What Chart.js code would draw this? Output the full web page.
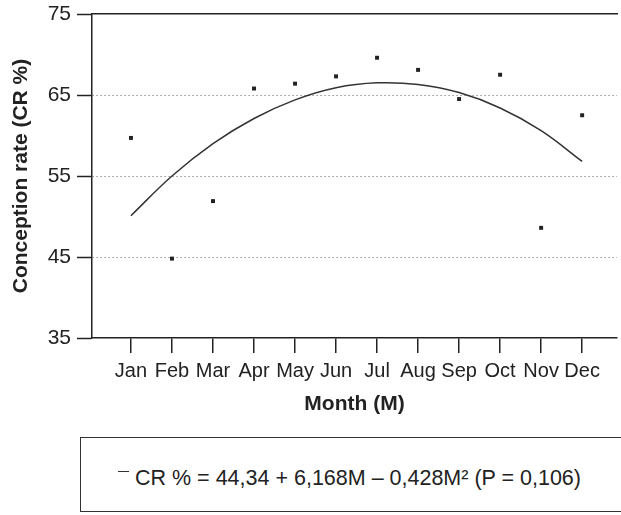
<!DOCTYPE html>
<html>
<head>
<meta charset="utf-8">
<script src="https://cdn.jsdelivr.net/npm/chart.js@4.4.1/dist/chart.umd.min.js"></script>
<style>
  body { margin: 0; background: #fff; overflow: hidden; }
  #wrap { position: relative; width: 621px; height: 430px; }
  #legendBox {
    position: absolute; left: 80px; top: 437px; width: 580px; height: 75px;
    border: 1.5px solid #333; box-sizing: border-box;
    font: 21.5px "Liberation Sans", Arial, sans-serif; color: #222;
    padding: 28px 0 0 37px; line-height: 24px; white-space: nowrap;
  }
  #legendBox .mark {
    display: inline-block; width: 11px; height: 0; border-top: 1.5px solid #333;
    vertical-align: middle; position: relative; top: -8px; margin-right: 6px;
  }
</style>
</head>
<body>
<div id="wrap"><canvas id="chart"></canvas></div>
<div id="legendBox"><span class="mark"></span>CR % = 44,34 + 6,168M – 0,428M² (P = 0,106)</div>
<script>
// months on the x axis (M = 1..12)
var months = ['Jan', 'Feb', 'Mar', 'Apr', 'May', 'Jun', 'Jul', 'Aug', 'Sep', 'Oct', 'Nov', 'Dec'];
var monthNum = [1, 2, 3, 4, 5, 6, 7, 8, 9, 10, 11, 12];
// observed conception rate (%)
var observed = [59.7, 44.8, 51.9, 65.8, 66.4, 67.3, 69.6, 68.1, 64.5, 67.5, 48.6, 62.5];
// fitted quadratic curve at each month
var fitted = [50.1, 55.0, 59.0, 62.1, 64.4, 65.9, 66.5, 66.3, 65.3, 63.4, 60.6, 56.8];
var yTicks = [35, 45, 55, 65, 75];

var ink = '#222';
var family = '"Liberation Sans", Arial, sans-serif';

function pairs(ys) {
    return monthNum.map(function(m, i) { return { x: m, y: ys[i] }; });
}

var ctx = document.getElementById('chart').getContext('2d');
var chart = new Chart(ctx, {
    type: 'line',
    data: {
        datasets: [{
            label: 'CR % fit',
            data: pairs(fitted),
            borderColor: '#333',
            borderWidth: 1.5,
            tension: 0.4,
            pointRadius: 0,
            fill: false
        }, {
            label: 'CR % observed',
            data: pairs(observed),
            showLine: false,
            pointStyle: 'rect',
            pointRadius: 2.8,
            backgroundColor: ink,
            borderColor: ink,
            borderWidth: 0
        }]
    },
    options: {
        responsive: true,
        maintainAspectRatio: false,
        animation: false,
        layout: { padding: { top: 14, left: 0, right: 0, bottom: 0 } },
        plugins: {
            legend: { display: false },
            tooltip: { enabled: false }
        },
        scales: {
            x: {
                type: 'linear',
                position: 'bottom',
                min: 0.05,
                max: 12.85,
                afterBuildTicks: function(scale) {
                    scale.ticks = monthNum.map(function(m) { return { value: m }; });
                },
                afterFit: function(scale) {
                    scale.height = 92;
                    scale.paddingLeft = 0;
                    scale.paddingRight = 0;
                },
                grid: {
                    drawOnChartArea: false,
                    tickLength: 15,
                    tickColor: ink,
                    lineWidth: 1.5
                },
                border: { color: ink, width: 1.5 },
                ticks: {
                    color: ink,
                    font: { family: family, size: 20 },
                    padding: 6,
                    maxRotation: 0,
                    autoSkip: false,
                    callback: function(v) { return months[v - 1]; }
                },
                title: {
                    display: true,
                    text: 'Month (M)',
                    color: ink,
                    font: { family: family, size: 21, weight: 'bold' },
                    padding: { top: 10, bottom: 13 }
                }
            },
            x2: {
                type: 'linear',
                position: 'top',
                min: 0.05,
                max: 12.85,
                afterFit: function(scale) { scale.height = 0; },
                grid: { drawOnChartArea: false, drawTicks: false },
                border: { color: ink, width: 1.5 },
                ticks: { display: false }
            },
            y: {
                min: 35,
                max: 75,
                afterBuildTicks: function(scale) {
                    scale.ticks = yTicks.map(function(v) { return { value: v }; });
                },
                afterFit: function(scale) {
                    scale.width = 92;
                    scale.paddingTop = 0;
                    scale.paddingBottom = 0;
                },
                grid: {
                    color: function(c) {
                        var v = c.tick && c.tick.value;
                        return (v === 35 || v === 75) ? 'transparent' : '#777';
                    },
                    lineWidth: 1,
                    tickLength: 15,
                    tickColor: ink,
                    tickWidth: 1.5
                },
                border: { color: ink, width: 1.5, dash: [1.2, 2.8] },
                ticks: { color: ink, font: { family: family, size: 21 }, padding: 6 },
                title: {
                    display: true,
                    text: 'Conception rate (CR %)',
                    color: ink,
                    font: { family: family, size: 21, weight: 'bold' },
                    padding: { top: 9, bottom: 0 }
                }
            }
        }
    }
});
</script>
</body>
</html>
